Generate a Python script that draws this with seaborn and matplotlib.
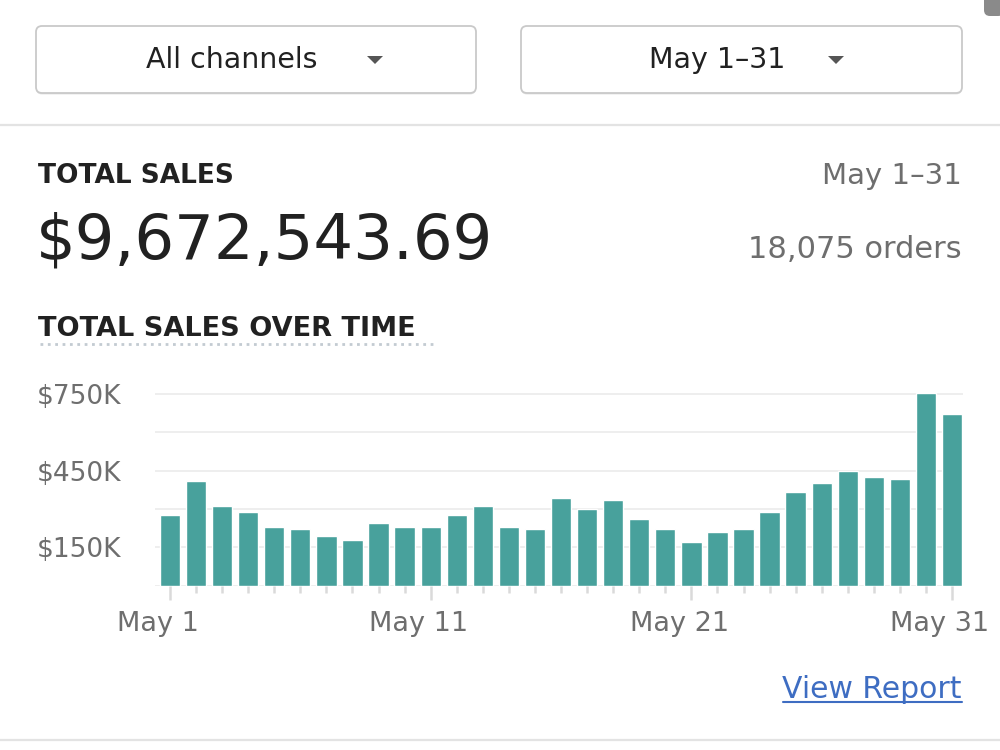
import matplotlib
matplotlib.use("Agg")
import matplotlib.pyplot as plt
import matplotlib.transforms as mtransforms
from matplotlib.patches import FancyBboxPatch, Polygon
from matplotlib.lines import Line2D
import pandas as pd
import seaborn as sns

sns.set_style("white")
plt.rcParams["font.family"] = ["DejaVu Sans"]

# daily sales in $K
days = list(range(1, 32))
sales = [275, 410, 312, 290, 231, 223, 193, 177, 245, 231,
         231, 275, 312, 231, 223, 343, 299, 335, 260, 223,
         171, 209, 223, 290, 365, 402, 447, 424, 417, 754, 672]
labeled_days = [1, 11, 21, 31]
grid_vals = [0, 150, 300, 450, 600, 750]
ytick_vals = [150, 450, 750]

channel_label = "All channels"
range_label = "May 1\u201331"
total_sales = "$9,672,543.69"
orders_label = "18,075 orders"

W, H = 1000, 750
TEAL = "#48a19c"
DARK = "#212121"
GRAY = "#6e6e6e"
BLUE = "#3e6dc2"


def fx(px):
    return px / W


def fy(py):
    return 1 - py / H


fig = plt.figure(figsize=(10, 7.5), dpi=100)
fig.patch.set_facecolor("white")

# --- filter buttons ---
for x0, x1, label, tx, arrow_x in [(36, 476, channel_label, 232, 375),
                                    (521, 962, range_label, 717, 836)]:
    shadow = FancyBboxPatch((fx(x0), fy(94.5)), fx(x1 - x0), (93 - 26) / H,
                            boxstyle="round,pad=0,rounding_size=0.006",
                            mutation_aspect=W / H, transform=fig.transFigure,
                            facecolor="#e6e6e6", edgecolor="none", zorder=1)
    box = FancyBboxPatch((fx(x0), fy(93)), fx(x1 - x0), (93 - 26) / H,
                         boxstyle="round,pad=0,rounding_size=0.006",
                         mutation_aspect=W / H, transform=fig.transFigure,
                         facecolor="white", edgecolor="#c9c9c9", lw=1.3, zorder=2)
    fig.patches.extend([shadow, box])
    fig.text(fx(tx), fy(60), label, ha="center", va="center",
             fontsize=20.5, color=DARK, zorder=3)
    tri = Polygon([(fx(arrow_x - 8), fy(56)), (fx(arrow_x + 8), fy(56)),
                   (fx(arrow_x), fy(64))], closed=True, transform=fig.transFigure,
                  facecolor="#555555", edgecolor="none", zorder=3)
    fig.patches.append(tri)

# scroll indicator in the corner
fig.patches.append(FancyBboxPatch((fx(984), fy(16)), fx(20), 24 / H,
                                  boxstyle="round,pad=0,rounding_size=0.006",
                                  mutation_aspect=W / H, transform=fig.transFigure,
                                  facecolor="#8a8a8a", edgecolor="none"))

# separators
for yy in (124.5, 739.5):
    fig.add_artist(Line2D([0, 1], [fy(yy), fy(yy)], transform=fig.transFigure,
                          color="#e3e3e3", lw=1.6))

# --- summary block ---
fig.text(fx(38), fy(176), "TOTAL SALES", ha="left", va="center",
         fontsize=19, fontweight="bold", color=DARK)
fig.text(fx(962), fy(176), range_label, ha="right", va="center",
         fontsize=21, color=GRAY)
fig.text(fx(36), fy(242), total_sales, ha="left", va="center",
         fontsize=45, color=DARK)
fig.text(fx(962), fy(249), orders_label, ha="right", va="center",
         fontsize=22, color=GRAY)

fig.text(fx(38), fy(329), "TOTAL SALES OVER TIME", ha="left", va="center",
         fontsize=19.5, fontweight="bold", color=DARK)
fig.add_artist(Line2D([fx(40), fx(436)], [fy(344), fy(344)], transform=fig.transFigure,
                      color="#c3cbd2", lw=2, linestyle=(0, (1, 1.65))))

# --- chart ---
ax = fig.add_axes([fx(155), fy(585.7), fx(808), (585.7 - 386.3) / H])
df = pd.DataFrame({"day": days, "sales": sales})
sns.barplot(data=df, x="day", y="sales", color=TEAL, saturation=1,
            width=0.78, ax=ax, zorder=3)

ax.set_xlim(-0.575, 30.42)
ax.set_ylim(0, 780)
for s in ax.spines.values():
    s.set_visible(False)

ax.set_yticks(ytick_vals)
ax.set_yticks([v for v in grid_vals if v not in ytick_vals], minor=True)
ax.set_yticklabels([f"${v}K" for v in ytick_vals])
ax.grid(True, axis="y", which="both", color="#ebebeb", lw=1.2, zorder=0)
ax.tick_params(axis="y", which="both", length=0, pad=85, labelsize=19,
               labelcolor=GRAY)
for lab in ax.get_yticklabels():
    lab.set_ha("left")

major_pos = [d - 1 for d in labeled_days]
ax.set_xticks(major_pos)
ax.set_xticks([d - 1 for d in days if d not in labeled_days], minor=True)
ax.set_xticklabels([f"May {d}" for d in labeled_days])
ax.tick_params(axis="x", which="major", bottom=True, length=10, width=1.8,
               color="#dadada", pad=8, labelsize=19.5, labelcolor=GRAY,
               direction="out")
ax.tick_params(axis="x", which="minor", bottom=True, length=5, width=1.8,
               color="#dadada", direction="out")
ax.set_xlabel("")
ax.set_ylabel("")
shift = mtransforms.ScaledTranslation(-12 / 100, 0, fig.dpi_scale_trans)
for lab in ax.get_xticklabels():
    lab.set_transform(lab.get_transform() + shift)

# --- link ---
link = fig.text(fx(962), fy(689), "View Report", ha="right", va="center",
                fontsize=21.5, color=BLUE)
fig.canvas.draw()
bb = link.get_window_extent().transformed(fig.transFigure.inverted())
fig.add_artist(Line2D([bb.x0, bb.x1], [fy(702), fy(702)], transform=fig.transFigure,
                      color=BLUE, lw=1.5))

fig.savefig("out.png", dpi=100, facecolor="white")
